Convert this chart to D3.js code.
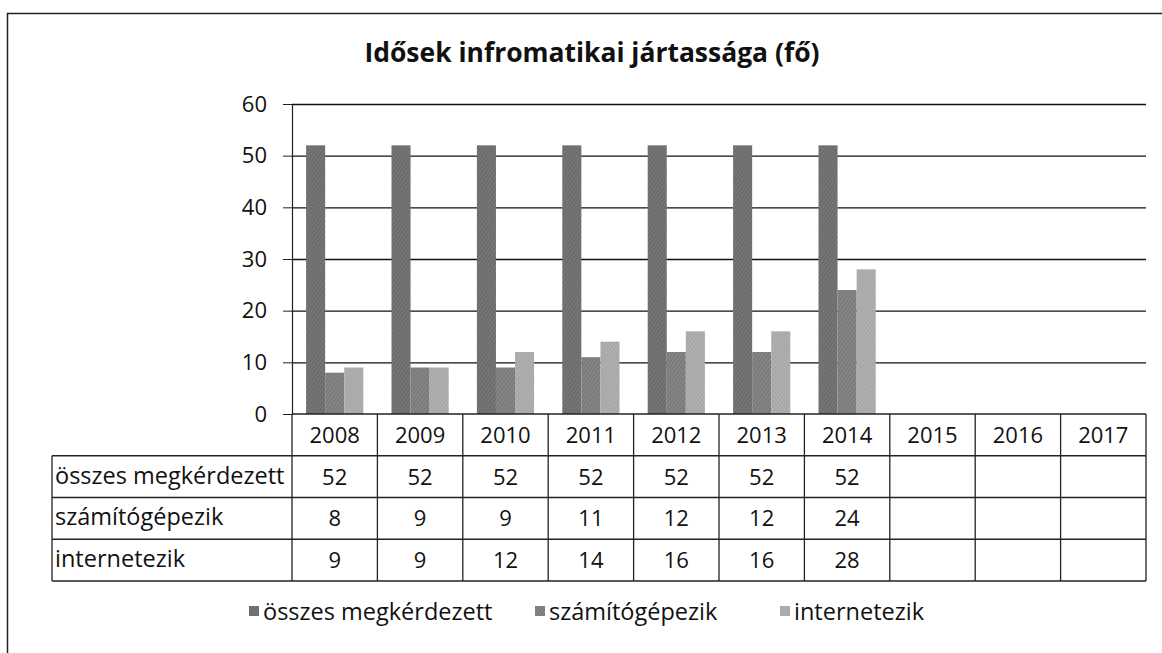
<!DOCTYPE html>
<html>
<head>
<meta charset="utf-8">
<script src="https://d3js.org/d3.v7.min.js"></script>
<style>
  body { margin: 0; background: #fff; }
  svg text { font-family: "Open Sans", "Noto Sans", sans-serif; fill: #111; }
</style>
</head>
<body>
<svg width="1162" height="653"></svg>
<script>
// Data
const years = ["2008", "2009", "2010", "2011", "2012", "2013", "2014", "2015", "2016", "2017"];
const seriesNames = ["összes megkérdezett", "számítógépezik", "internetezik"];
const osszes = [52, 52, 52, 52, 52, 52, 52, null, null, null];
const szamitogep = [8, 9, 9, 11, 12, 12, 24, null, null, null];
const internet = [9, 9, 12, 14, 16, 16, 28, null, null, null];
const yTicks = [0, 10, 20, 30, 40, 50, 60];
const title = "Idősek infromatikai jártassága (fő)";

const seriesValues = [osszes, szamitogep, internet];
const fills = ["#767676", "#858585", "#b0b0b0"];
const strokes = ["#555", "#636363", "#949494"];

const svg = d3.select("svg");

// Layout
const plotLeft = 292, plotRight = 1146, plotTop = 104, plotBottom = 414;
const labelLeft = 52;
const rowH = 41.75;

// Halftone-ish patterns so bars look like the scan
const defs = svg.append("defs");
fills.forEach((f, i) => {
  let p = defs.append("pattern")
      .attr("id", "pat" + i)
      .attr("width", 3).attr("height", 3)
      .attr("patternUnits", "userSpaceOnUse")
      .attr("patternTransform", "rotate(" + (i === 2 ? -35 : 35) + ")");
  p.append("rect").attr("width", 3).attr("height", 3).attr("fill", f);
  p.append("line").attr("x1", 0).attr("y1", 0).attr("x2", 0).attr("y2", 3)
      .attr("stroke", strokes[i]).attr("stroke-width", 1);
});

// Outer frame
svg.append("rect")
    .attr("x", 7.5).attr("y", 13.5)
    .attr("width", 1300).attr("height", 800)
    .attr("fill", "none").attr("stroke", "#222").attr("stroke-width", 1.5);

// Title
svg.append("text")
    .attr("x", 592).attr("y", 62)
    .attr("text-anchor", "middle")
    .attr("font-size", 26)
    .attr("font-weight", "bold")
    .attr("textLength", 455)
    .attr("lengthAdjust", "spacingAndGlyphs")
    .text(title);

// Scales
const x0 = d3.scaleBand().domain(years).range([plotLeft, plotRight]).padding(0);
const bw = x0.bandwidth();
const x1 = d3.scaleBand().domain(d3.range(seriesNames.length)).range([bw * 0.165, bw * 0.835]).padding(0);
const y = d3.scaleLinear().domain([0, 60]).range([plotBottom, plotTop]);

// Gridlines
svg.append("g")
    .selectAll("line")
    .data(yTicks.filter(d => d > 0))
    .enter().append("line")
    .attr("x1", plotLeft).attr("x2", plotRight)
    .attr("y1", d => y(d) + 0.5).attr("y2", d => y(d) + 0.5)
    .attr("stroke", "#111").attr("stroke-width", 1.3);

// Y axis
const yAxis = svg.append("g")
    .attr("transform", "translate(" + plotLeft + ",0)")
    .call(d3.axisLeft(y).tickValues(yTicks).tickSize(9).tickPadding(16));
yAxis.select(".domain").attr("stroke", "#222").attr("stroke-width", 1.2);
yAxis.selectAll(".tick line").attr("stroke", "#222");
yAxis.selectAll("text").attr("font-size", 22).attr("fill", "#111")
    .style("font-family", "'Open Sans', sans-serif");

// Bars
const groups = svg.append("g")
    .selectAll("g")
    .data(years)
    .enter().append("g")
    .attr("transform", d => "translate(" + x0(d) + ",0)");

groups.selectAll("rect")
    .data((d, i) => seriesValues.map((s, k) => ({ k: k, v: s[i] })).filter(e => e.v !== null))
    .enter().append("rect")
    .attr("x", d => x1(d.k))
    .attr("width", x1.bandwidth())
    .attr("y", d => y(d.v))
    .attr("height", d => y(0) - y(d.v))
    .attr("fill", d => "url(#pat" + d.k + ")");

// Data table
const table = svg.append("g").attr("stroke", "#222").attr("stroke-width", 1.3);
const rowsY = d3.range(5).map(i => plotBottom + i * rowH);

// horizontal lines
table.append("line").attr("x1", plotLeft).attr("x2", plotRight).attr("y1", plotBottom).attr("y2", plotBottom);
rowsY.slice(1).forEach(ry => {
  table.append("line").attr("x1", labelLeft).attr("x2", plotRight).attr("y1", ry).attr("y2", ry);
});
// vertical lines
years.forEach(yr => {
  table.append("line").attr("x1", x0(yr)).attr("x2", x0(yr)).attr("y1", plotBottom).attr("y2", rowsY[4]);
});
table.append("line").attr("x1", plotRight).attr("x2", plotRight).attr("y1", plotBottom).attr("y2", rowsY[4]);
table.append("line").attr("x1", labelLeft).attr("x2", labelLeft).attr("y1", rowsY[1]).attr("y2", rowsY[4]);

// header years
svg.append("g").selectAll("text")
    .data(years)
    .enter().append("text")
    .attr("x", d => x0(d) + bw / 2)
    .attr("y", plotBottom + rowH / 2 + 8)
    .attr("text-anchor", "middle")
    .attr("font-size", 22)
    .text(d => d);

// row labels and values
seriesNames.forEach((name, k) => {
  svg.append("text")
      .attr("x", labelLeft + 3)
      .attr("y", rowsY[k + 1] + rowH / 2 + 7)
      .attr("font-size", 23.5)
      .text(name);

  svg.append("g").selectAll("text")
      .data(seriesValues[k].map((v, i) => ({ v: v, yr: years[i] })).filter(e => e.v !== null))
      .enter().append("text")
      .attr("x", d => x0(d.yr) + bw / 2)
      .attr("y", rowsY[k + 1] + rowH / 2 + 8)
      .attr("text-anchor", "middle")
      .attr("font-size", 22)
      .text(d => d.v);
});

// Legend
const legendX = [249, 535, 780];
const legend = svg.append("g");
seriesNames.forEach((name, k) => {
  legend.append("rect")
      .attr("x", legendX[k]).attr("y", 606)
      .attr("width", 10).attr("height", 10)
      .attr("fill", "url(#pat" + k + ")");
  legend.append("text")
      .attr("x", legendX[k] + 14)
      .attr("y", 620)
      .attr("font-size", 23.5)
      .text(name);
});
</script>
</body>
</html>
